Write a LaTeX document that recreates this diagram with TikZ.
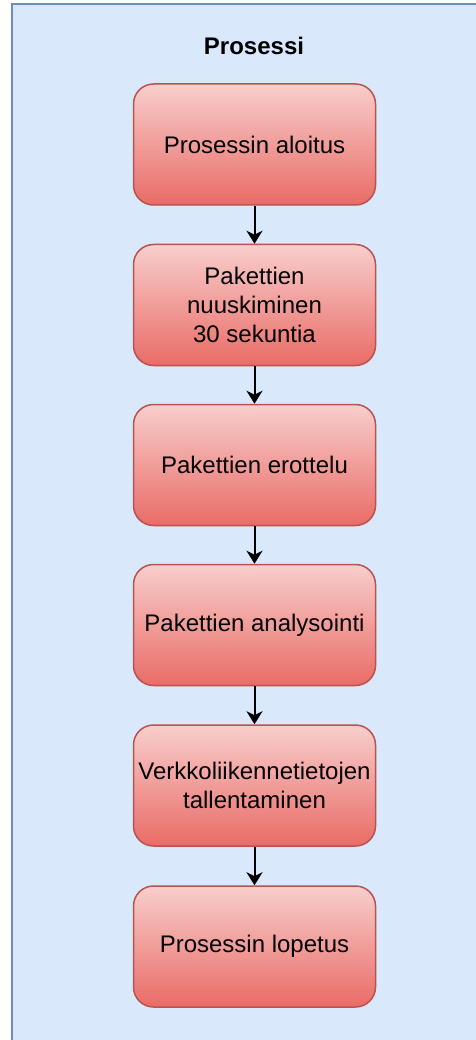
\documentclass[tikz,border=0pt]{standalone}
\usepackage{fontspec}
\setmainfont{Liberation Sans}
\usepackage{tikz}
\usetikzlibrary{shapes,arrows.meta}
\usetikzlibrary{positioning}
\definecolor{bgfill}{HTML}{DAE8FC}
\definecolor{bgline}{HTML}{6C8EBF}
\definecolor{redtop}{HTML}{F8CECC}
\definecolor{redbot}{HTML}{EA6B66}
\definecolor{redline}{HTML}{B85450}
\tikzstyle{line} = [draw, line width=2pt, -{Stealth[length=13pt,width=16pt,inset=4pt]}]

\begin{document}
\begin{tikzpicture}[x=1pt, y=-1pt,
	box/.style={draw=redline, line width=1.5pt, rectangle, rounded corners=20pt,
		top color=redtop, bottom color=redbot,
		minimum width=242pt, minimum height=121pt, inner sep=2pt,
		align=center, font=\fontsize{24}{28.8}\selectfont}]
	\useasboundingbox (0,0) rectangle (475,1040);
	%% Container
	\draw [fill=bgfill, draw=bgline, line width=2pt] (12,4) rectangle (490,1060);
	\node [font=\fontsize{24}{28.8}\selectfont\bfseries] at (254,46) (title) {Prosessi};
	%% Steps
	\node [box] at (254.5,144.5) (start) {Prosessin aloitus};
	\node [box] at (254.5,305) (sniff) {Pakettien\\nuuskiminen\\30 sekuntia};
	\node [box] at (254.5,465) (split) {Pakettien erottelu};
	\node [box] at (254.5,625) (analyse) {Pakettien analysointi};
	\node [box] at (254.5,785.5) (store) {Verkkoliikennetietojen\\tallentaminen};
	\node [box] at (254.5,946.5) (stop) {Prosessin lopetus};
	%% Flows
	\path [line] (start) to (sniff);
	\path [line] (sniff) to (split);
	\path [line] (split) to (analyse);
	\path [line] (analyse) to (store);
	\path [line] (store) to (stop);
\end{tikzpicture}
\end{document}
